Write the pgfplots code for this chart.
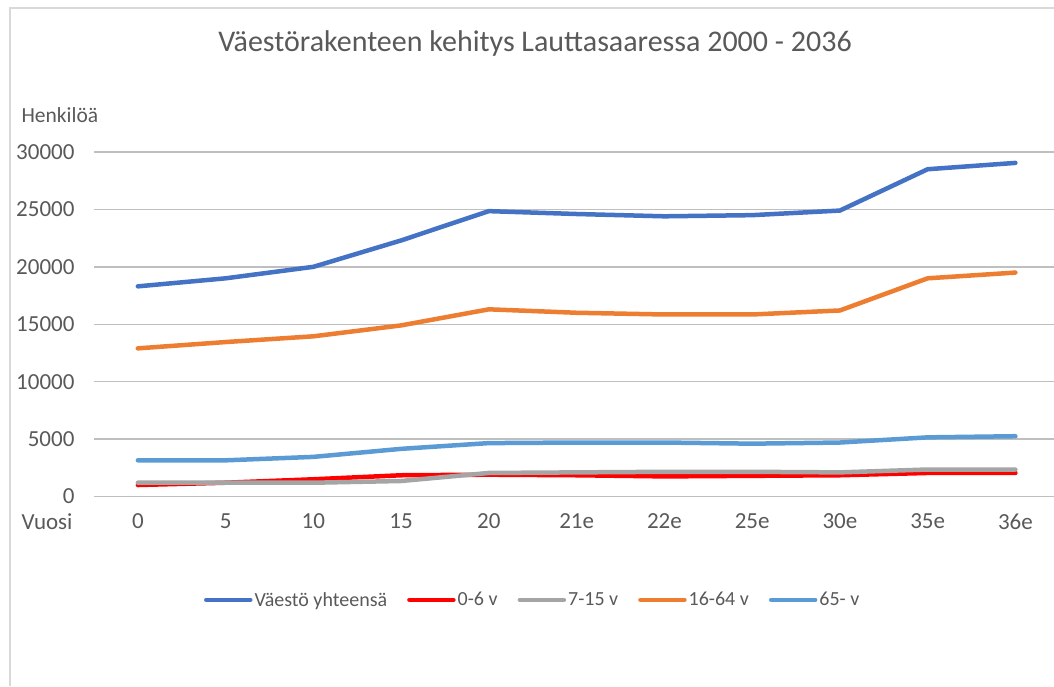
\documentclass[border=0pt]{standalone}
\usepackage{pgfplots}
\pgfplotsset{compat=1.18}
\usepackage{fontspec}
\setmainfont{Carlito}
\definecolor{txt}{HTML}{595959}
\definecolor{grid}{HTML}{D9D9D9}
\definecolor{cTot}{HTML}{4472C4}
\definecolor{cRed}{HTML}{FF0000}
\definecolor{cGray}{HTML}{A5A5A5}
\definecolor{cOrange}{HTML}{ED7D31}
\definecolor{cLight}{HTML}{5B9BD5}
\begin{document}
\begin{tikzpicture}
\path[use as bounding box] (0pt,0pt) rectangle (1054pt,686pt);
\draw[grid, line width=2pt] (9.5pt,0pt) -- (9.5pt,678pt) -- (1054pt,678pt);
\node[txt, font=\fontsize{30}{36}\selectfont] at (535pt,642pt) {Väestörakenteen kehitys Lauttasaaressa 2000 - 2036};
\node[txt, anchor=west, font=\fontsize{21.5}{25}\selectfont] at (18pt,571pt) {Henkilöä};
\node[txt, anchor=west, font=\fontsize{23}{27}\selectfont] at (18pt,164pt) {Vuosi};
\begin{axis}[
  at={(94pt,189.5pt)}, anchor=south west,
  scale only axis, width=960pt, height=344.5pt,
  xmin=-0.5, xmax=10.44, ymin=0, ymax=30000,
  axis line style={draw=none},
  xtick={0,...,10},
  xticklabels={0,5,10,15,20,21e,22e,25e,30e,35e,36e},
  ytick={0,5000,...,30000},
  xmajorgrids=false, ymajorgrids=true, grid style={grid, line width=1.5pt},
  xtick style={draw=none}, ytick style={draw=none},
  /pgf/number format/assume math mode=true,
  /pgf/number format/1000 sep={},
  scaled y ticks=false,
  ticklabel style={txt, font=\fontsize{23}{27}\selectfont},
  yticklabel style={anchor=east, xshift=-16pt},
  xticklabel style={anchor=north, yshift=-14pt},
  clip=false,
  legend columns=5,
  legend style={draw=none, fill=none, at={(axis description cs:0.457,-0.300)}, anchor=center,
    font=\fontsize{20}{24}\selectfont, text=txt,
    /tikz/every even column/.append style={column sep=18pt}},
  legend image code/.code={\draw[#1] (0pt,0pt) -- (44pt,0pt);},
  every axis plot/.append style={line width=4.5pt, line join=round, line cap=round},
]
\addplot[cTot] coordinates {(0,18300)(1,19000)(2,20000)(3,22300)(4,24850)(5,24600)(6,24400)(7,24500)(8,24900)(9,28500)(10,29050)};
\addlegendentry{Väestö yhteensä}
\addplot[cRed] coordinates {(0,1000)(1,1200)(2,1500)(3,1850)(4,1900)(5,1850)(6,1750)(7,1800)(8,1850)(9,2050)(10,2050)};
\addlegendentry{0-6 v}
\addplot[cGray] coordinates {(0,1200)(1,1200)(2,1200)(3,1350)(4,2050)(5,2100)(6,2150)(7,2150)(8,2100)(9,2350)(10,2350)};
\addlegendentry{7-15 v}
\addplot[cOrange] coordinates {(0,12900)(1,13450)(2,13950)(3,14900)(4,16300)(5,16000)(6,15850)(7,15850)(8,16200)(9,19000)(10,19500)};
\addlegendentry{16-64 v}
\addplot[cLight] coordinates {(0,3150)(1,3150)(2,3450)(3,4150)(4,4650)(5,4700)(6,4700)(7,4600)(8,4700)(9,5150)(10,5250)};
\addlegendentry{65- v}
\end{axis}
\end{tikzpicture}
\end{document}
